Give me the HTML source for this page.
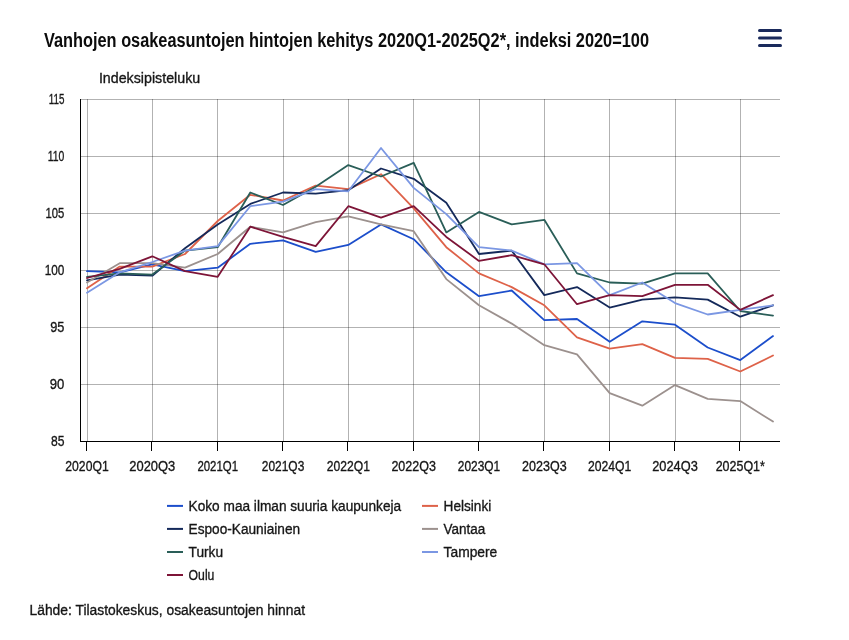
<!DOCTYPE html>
<html lang="fi"><head><meta charset="utf-8"><title>Vanhojen osakeasuntojen hintojen kehitys</title>
<style>html,body{margin:0;padding:0;background:#fff}body{width:849px;height:640px;overflow:hidden}svg{display:block}text{font-family:"Liberation Sans",sans-serif;fill:#161616}.t15{font-size:15.4px;stroke:#161616;stroke-width:0.35px}.title{font-size:20.3px;font-weight:bold;fill:#0c0c0c}</style></head><body>
<svg width="849" height="640" viewBox="0 0 849 640">
<rect width="849" height="640" fill="#fff"/>
<text class="title" x="44.0" y="46.7" textLength="605.0" lengthAdjust="spacingAndGlyphs">Vanhojen osakeasuntojen hintojen kehitys 2020Q1-2025Q2*, indeksi 2020=100</text>
<g stroke="#1a2a5c" stroke-width="3" stroke-linecap="round">
<line x1="759.5" y1="30.4" x2="780.5" y2="30.4"/>
<line x1="759.5" y1="37.9" x2="780.5" y2="37.9"/>
<line x1="759.5" y1="45.4" x2="780.5" y2="45.4"/>
</g>
<text class="t15" x="98.9" y="83.4" textLength="101.3" lengthAdjust="spacingAndGlyphs">Indeksipisteluku</text>
<g stroke="#000" stroke-opacity="0.3" stroke-width="1" shape-rendering="crispEdges">
<line x1="81" y1="99.5" x2="780" y2="99.5"/>
<line x1="81" y1="156.5" x2="780" y2="156.5"/>
<line x1="81" y1="213.5" x2="780" y2="213.5"/>
<line x1="81" y1="270.5" x2="780" y2="270.5"/>
<line x1="81" y1="327.5" x2="780" y2="327.5"/>
<line x1="81" y1="384.5" x2="780" y2="384.5"/>
<line x1="87.5" y1="99" x2="87.5" y2="441"/>
<line x1="152.5" y1="99" x2="152.5" y2="441"/>
<line x1="217.5" y1="99" x2="217.5" y2="441"/>
<line x1="283.5" y1="99" x2="283.5" y2="441"/>
<line x1="348.5" y1="99" x2="348.5" y2="441"/>
<line x1="413.5" y1="99" x2="413.5" y2="441"/>
<line x1="479.5" y1="99" x2="479.5" y2="441"/>
<line x1="544.5" y1="99" x2="544.5" y2="441"/>
<line x1="609.5" y1="99" x2="609.5" y2="441"/>
<line x1="675.5" y1="99" x2="675.5" y2="441"/>
<line x1="740.5" y1="99" x2="740.5" y2="441"/>
</g>
<defs><clipPath id="plot"><rect x="81" y="99" width="699" height="342"/></clipPath></defs>
<g clip-path="url(#plot)" fill="none" stroke-width="1.8" stroke-linejoin="round" stroke-linecap="round">
<path d="M87.0 271.1 L119.7 272.3 L152.3 264.3 L185.0 271.1 L217.7 267.7 L250.3 243.8 L283.0 240.4 L315.7 251.8 L348.3 244.9 L381.0 224.4 L413.7 239.2 L446.3 272.3 L479.0 296.2 L511.7 290.5 L544.3 320.2 L577.0 319.0 L609.7 341.8 L642.3 321.3 L675.0 324.7 L707.7 347.5 L740.3 360.1 L773.0 336.1" stroke="#1c4ecb"/>
<path d="M87.0 288.2 L119.7 266.6 L152.3 266.6 L185.0 254.0 L217.7 221.0 L250.3 194.8 L283.0 200.5 L315.7 185.6 L348.3 189.1 L381.0 174.2 L413.7 208.4 L446.3 247.2 L479.0 273.4 L511.7 287.1 L544.3 305.3 L577.0 337.3 L609.7 348.7 L642.3 344.1 L675.0 357.8 L707.7 358.9 L740.3 371.5 L773.0 355.5" stroke="#de6249"/>
<path d="M87.0 280.3 L119.7 274.6 L152.3 275.7 L185.0 248.3 L217.7 224.4 L250.3 203.9 L283.0 192.5 L315.7 193.6 L348.3 190.2 L381.0 168.5 L413.7 178.8 L446.3 202.7 L479.0 254.0 L511.7 250.6 L544.3 295.1 L577.0 287.1 L609.7 307.6 L642.3 299.6 L675.0 297.4 L707.7 299.6 L740.3 316.7 L773.0 305.3" stroke="#14295a"/>
<path d="M87.0 282.5 L119.7 263.2 L152.3 263.2 L185.0 267.7 L217.7 254.0 L250.3 226.7 L283.0 232.4 L315.7 222.1 L348.3 216.4 L381.0 224.4 L413.7 231.2 L446.3 279.1 L479.0 305.3 L511.7 323.6 L544.3 345.2 L577.0 354.4 L609.7 393.1 L642.3 405.7 L675.0 385.1 L707.7 398.8 L740.3 401.1 L773.0 421.6" stroke="#9c918e"/>
<path d="M87.0 276.8 L119.7 273.4 L152.3 274.6 L185.0 250.6 L217.7 247.2 L250.3 192.5 L283.0 205.0 L315.7 186.8 L348.3 165.1 L381.0 176.5 L413.7 162.8 L446.3 232.4 L479.0 211.9 L511.7 224.4 L544.3 219.8 L577.0 273.4 L609.7 282.5 L642.3 283.7 L675.0 273.4 L707.7 273.4 L740.3 311.0 L773.0 315.6" stroke="#2a5e58"/>
<path d="M87.0 292.8 L119.7 272.3 L152.3 262.0 L185.0 250.6 L217.7 246.1 L250.3 206.2 L283.0 201.6 L315.7 189.1 L348.3 191.3 L381.0 148.0 L413.7 187.9 L446.3 214.1 L479.0 247.2 L511.7 250.6 L544.3 264.3 L577.0 263.2 L609.7 295.1 L642.3 282.5 L675.0 303.1 L707.7 314.5 L740.3 309.9 L773.0 305.3" stroke="#7b97e3"/>
<path d="M87.0 278.0 L119.7 268.9 L152.3 256.3 L185.0 271.1 L217.7 276.8 L250.3 226.7 L283.0 236.9 L315.7 246.1 L348.3 206.2 L381.0 217.6 L413.7 206.2 L446.3 236.9 L479.0 260.9 L511.7 255.2 L544.3 264.3 L577.0 304.2 L609.7 295.1 L642.3 296.2 L675.0 284.8 L707.7 284.8 L740.3 309.9 L773.0 295.1" stroke="#7d1437"/>
</g>
<g stroke="#000" stroke-width="1" shape-rendering="crispEdges">
<line x1="80.5" y1="99" x2="80.5" y2="442"/>
<line x1="80" y1="441.5" x2="780" y2="441.5"/>
<line x1="86.5" y1="441" x2="86.5" y2="451"/>
<line x1="151.5" y1="441" x2="151.5" y2="451"/>
<line x1="217.5" y1="441" x2="217.5" y2="451"/>
<line x1="282.5" y1="441" x2="282.5" y2="451"/>
<line x1="347.5" y1="441" x2="347.5" y2="451"/>
<line x1="413.5" y1="441" x2="413.5" y2="451"/>
<line x1="478.5" y1="441" x2="478.5" y2="451"/>
<line x1="543.5" y1="441" x2="543.5" y2="451"/>
<line x1="609.5" y1="441" x2="609.5" y2="451"/>
<line x1="674.5" y1="441" x2="674.5" y2="451"/>
<line x1="739.5" y1="441" x2="739.5" y2="451"/>
</g>
<text class="t15" x="48.7" y="104.4" textLength="15.7" lengthAdjust="spacingAndGlyphs">115</text>
<text class="t15" x="47.8" y="161.4" textLength="16.6" lengthAdjust="spacingAndGlyphs">110</text>
<text class="t15" x="45.6" y="218.4" textLength="18.8" lengthAdjust="spacingAndGlyphs">105</text>
<text class="t15" x="44.7" y="275.4" textLength="19.7" lengthAdjust="spacingAndGlyphs">100</text>
<text class="t15" x="50.2" y="332.4" textLength="14.2" lengthAdjust="spacingAndGlyphs">95</text>
<text class="t15" x="49.8" y="389.4" textLength="14.6" lengthAdjust="spacingAndGlyphs">90</text>
<text class="t15" x="50.9" y="446.4" textLength="13.5" lengthAdjust="spacingAndGlyphs">85</text>
<text class="t15" x="65.3" y="471.0" textLength="43.4" lengthAdjust="spacingAndGlyphs">2020Q1</text>
<text class="t15" x="129.3" y="471.0" textLength="46.0" lengthAdjust="spacingAndGlyphs">2020Q3</text>
<text class="t15" x="197.4" y="471.0" textLength="40.6" lengthAdjust="spacingAndGlyphs">2021Q1</text>
<text class="t15" x="261.8" y="471.0" textLength="42.5" lengthAdjust="spacingAndGlyphs">2021Q3</text>
<text class="t15" x="326.8" y="471.0" textLength="43.1" lengthAdjust="spacingAndGlyphs">2022Q1</text>
<text class="t15" x="391.4" y="471.0" textLength="44.5" lengthAdjust="spacingAndGlyphs">2022Q3</text>
<text class="t15" x="457.8" y="471.0" textLength="42.4" lengthAdjust="spacingAndGlyphs">2023Q1</text>
<text class="t15" x="522.1" y="471.0" textLength="44.5" lengthAdjust="spacingAndGlyphs">2023Q3</text>
<text class="t15" x="588.0" y="471.0" textLength="43.4" lengthAdjust="spacingAndGlyphs">2024Q1</text>
<text class="t15" x="652.2" y="471.0" textLength="45.6" lengthAdjust="spacingAndGlyphs">2024Q3</text>
<text class="t15" x="715.7" y="471.0" textLength="49.2" lengthAdjust="spacingAndGlyphs">2025Q1*</text>
<line x1="167.0" y1="505.9" x2="183.0" y2="505.9" stroke="#1c4ecb" stroke-width="2"/>
<text class="t15" x="188.6" y="510.6" textLength="212.5" lengthAdjust="spacingAndGlyphs">Koko maa ilman suuria kaupunkeja</text>
<line x1="422.0" y1="505.9" x2="438.0" y2="505.9" stroke="#de6249" stroke-width="2"/>
<text class="t15" x="443.6" y="510.6" textLength="47.7" lengthAdjust="spacingAndGlyphs">Helsinki</text>
<line x1="167.0" y1="528.9" x2="183.0" y2="528.9" stroke="#14295a" stroke-width="2"/>
<text class="t15" x="188.6" y="533.6" textLength="111.5" lengthAdjust="spacingAndGlyphs">Espoo-Kauniainen</text>
<line x1="422.0" y1="528.9" x2="438.0" y2="528.9" stroke="#9c918e" stroke-width="2"/>
<text class="t15" x="443.6" y="533.6" textLength="41.7" lengthAdjust="spacingAndGlyphs">Vantaa</text>
<line x1="167.0" y1="552.0" x2="183.0" y2="552.0" stroke="#2a5e58" stroke-width="2"/>
<text class="t15" x="188.6" y="556.7" textLength="34.5" lengthAdjust="spacingAndGlyphs">Turku</text>
<line x1="422.0" y1="552.0" x2="438.0" y2="552.0" stroke="#7b97e3" stroke-width="2"/>
<text class="t15" x="443.6" y="556.7" textLength="53.7" lengthAdjust="spacingAndGlyphs">Tampere</text>
<line x1="167.0" y1="575.0" x2="183.0" y2="575.0" stroke="#7d1437" stroke-width="2"/>
<text class="t15" x="188.6" y="579.8" textLength="25.8" lengthAdjust="spacingAndGlyphs">Oulu</text>
<text class="t15" x="29.5" y="615.3" textLength="275.5" lengthAdjust="spacingAndGlyphs">Lähde: Tilastokeskus, osakeasuntojen hinnat</text>
</svg></body></html>
